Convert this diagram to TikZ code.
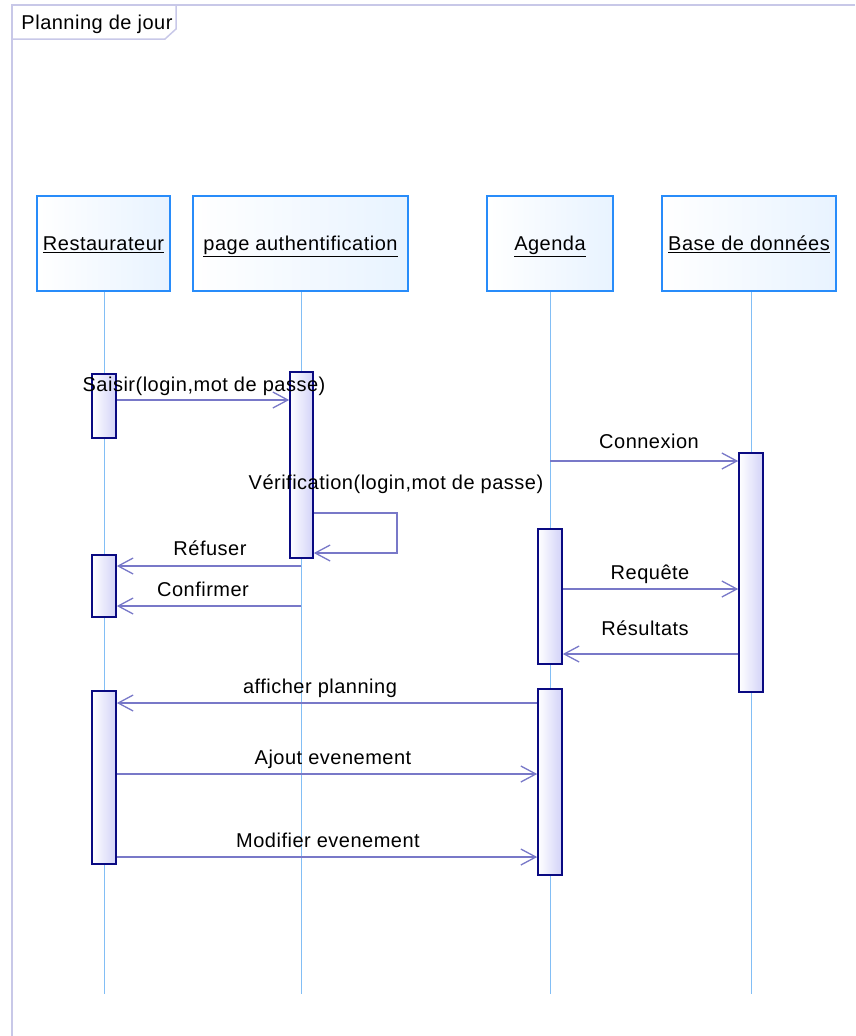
\documentclass[tikz,border=0pt]{standalone}
\usepackage{fontspec}
\setmainfont{Liberation Sans}[LetterSpace=2.5]
\usetikzlibrary{arrows.meta}
\definecolor{framecol}{RGB}{200,200,232}
\definecolor{headborder}{RGB}{40,140,250}
\definecolor{headfill}{RGB}{232,243,255}
\definecolor{actborder}{RGB}{10,10,130}
\definecolor{actfill}{RGB}{210,210,248}
\definecolor{msgcol}{RGB}{120,120,200}
\definecolor{lifecol}{RGB}{130,190,245}
\tikzset{
  txt/.style={font=\fontsize{20}{24}\selectfont, inner sep=0pt, anchor=base},
  header/.style={draw=headborder, line width=1.6pt, left color=white, right color=headfill,
    inner sep=0pt},
  headtext/.style={font=\fontsize{20}{24}\selectfont, inner sep=0pt, anchor=base},
  activation/.style={draw=actborder, line width=1.6pt, left color=white, right color=actfill,
    inner sep=0pt},
  lifeline/.style={draw=lifecol, line width=0.8pt},
  msg/.style={draw=msgcol, line width=1.3pt, -{Straight Barb[length=15pt,width=16pt,line width=1.3pt]}},
}
\begin{document}
\begin{tikzpicture}[x=1pt,y=-1pt]
\useasboundingbox (0,0) rectangle (855,1036);

% frame and its title tab
\draw[framecol, line width=1.8pt] (855,5) -- (12,5) -- (12,1036);
\draw[framecol, line width=1.5pt] (12,5) -- (176,5) -- (176,29) -- (165,39) -- (12,39);
\node[txt] (title) at (97,29) {Planning de jour};

% lifeline heads
\node[header, minimum width=133pt, minimum height=95pt] (h1) at (103.5,243.5) {};
\node[header, minimum width=215pt, minimum height=95pt] (h2) at (300.5,243.5) {};
\node[header, minimum width=126pt, minimum height=95pt] (h3) at (550,243.5) {};
\node[header, minimum width=174pt, minimum height=95pt] (h4) at (749,243.5) {};
\node[headtext] (t1) at ([yshift=-7pt]h1.center) {\underline{Restaurateur}};
\node[headtext] (t2) at ([yshift=-7pt]h2.center) {\underline{page authentification}};
\node[headtext] (t3) at ([yshift=-7pt]h3.center) {\underline{Agenda}};
\node[headtext] (t4) at ([yshift=-7pt]h4.center) {\underline{Base de données}};

% lifeline ends
\coordinate (e1) at (104,994);
\coordinate (e2) at (301,994);
\coordinate (e3) at (550,994);
\coordinate (e4) at (751,994);
\draw[lifeline] (h1.south -| e1) -- (e1);
\draw[lifeline] (h2.south -| e2) -- (e2);
\draw[lifeline] (h3.south -| e3) -- (e3);
\draw[lifeline] (h4.south -| e4) -- (e4);

% activation bars
\node[activation, minimum width=24pt, minimum height=64pt]  (a1) at (104,406) {};
\node[activation, minimum width=23pt, minimum height=186pt] (a2) at (301.5,465) {};
\node[activation, minimum width=24pt, minimum height=62pt]  (a3) at (104,586) {};
\node[activation, minimum width=24pt, minimum height=135pt] (a4) at (550,596.5) {};
\node[activation, minimum width=24pt, minimum height=239pt] (a5) at (751,572.5) {};
\node[activation, minimum width=24pt, minimum height=173pt] (a6) at (104,777.5) {};
\node[activation, minimum width=24pt, minimum height=186pt] (a7) at (550,782) {};

% message levels
\coordinate (m1) at (0,400);
\coordinate (m2) at (0,461);
\coordinate (m3a) at (0,513);
\coordinate (m3b) at (0,553);
\coordinate (m4) at (0,566);
\coordinate (m5) at (0,606);
\coordinate (m6) at (0,589);
\coordinate (m7) at (0,654);
\coordinate (m8) at (0,703);
\coordinate (m9) at (0,774);
\coordinate (m10) at (0,857);
\coordinate (loopx) at (397,0);

% messages
\draw[msg] (a1.east |- m1) -- (a2.west |- m1);
\draw[msg] (e3 |- m2) -- (a5.west |- m2);
\draw[msg] (a2.east |- m3a) -- (loopx |- m3a) -- (loopx |- m3b) -- (a2.east |- m3b);
\draw[msg] (e2 |- m4) -- (a3.east |- m4);
\draw[msg] (e2 |- m5) -- (a3.east |- m5);
\draw[msg] (a4.east |- m6) -- (a5.west |- m6);
\draw[msg] (a5.west |- m7) -- (a4.east |- m7);
\draw[msg] (a7.west |- m8) -- (a6.east |- m8);
\draw[msg] (a6.east |- m9) -- (a7.west |- m9);
\draw[msg] (a6.east |- m10) -- (a7.west |- m10);

% message labels
\node[txt] (l1) at (204,391) {Saisir(login,mot de passe)};
\node[txt] (l2) at (649,448) {Connexion};
\node[txt] (l3) at (396,489) {Vérification(login,mot de passe)};
\node[txt] (l4) at (210,555) {Réfuser};
\node[txt] (l5) at (203,596) {Confirmer};
\node[txt] (l6) at (650,579) {Requête};
\node[txt] (l7) at (645,635) {Résultats};
\node[txt] (l8) at (320,693) {afficher planning};
\node[txt] (l9) at (333,764) {Ajout evenement};
\node[txt] (l10) at (328,847) {Modifier evenement};
\end{tikzpicture}
\end{document}
